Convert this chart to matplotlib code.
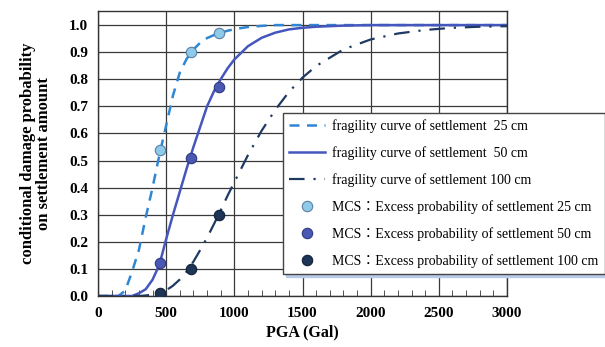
import matplotlib
matplotlib.use("Agg")
import matplotlib.pyplot as plt
from matplotlib.ticker import MultipleLocator

# ---- data ----
pga_curve = [0, 100, 150, 200, 250, 300, 350, 400, 450, 500, 550, 600, 650, 700,
             750, 800, 850, 900, 950, 1000, 1100, 1200, 1300, 1400, 1500, 1600,
             1800, 2000, 2200, 2400, 2600, 2800, 3000]
frag_25 = [0, 0, 0, 0.02, 0.09, 0.17, 0.29, 0.40, 0.52, 0.63, 0.74, 0.825, 0.875, 0.91,
           0.935, 0.952, 0.963, 0.972, 0.979, 0.985, 0.993, 0.997, 1.0, 1.0, 1.0, 1.0,
           1.0, 1.0, 1.0, 1.0, 1.0, 1.0, 1.0]
frag_50 = [0, 0, 0, 0, 0, 0.01, 0.025, 0.06, 0.115, 0.21, 0.30, 0.385, 0.47, 0.55,
           0.625, 0.70, 0.755, 0.80, 0.84, 0.873, 0.922, 0.953, 0.972, 0.984, 0.99, 0.994,
           0.998, 1.0, 1.0, 1.0, 1.0, 1.0, 1.0]
frag_100 = [0, 0, 0, 0, 0, 0, 0.002, 0.005, 0.011, 0.021, 0.038, 0.061, 0.09, 0.127,
            0.17, 0.215, 0.265, 0.316, 0.37, 0.42, 0.52, 0.61, 0.687, 0.753, 0.806, 0.849,
            0.91, 0.947, 0.969, 0.982, 0.99, 0.994, 0.996]

pga_mcs = [455, 680, 890]
mcs_25 = [0.54, 0.90, 0.97]
mcs_50 = [0.12, 0.51, 0.77]
mcs_100 = [0.01, 0.10, 0.30]

labels_curve = ["fragility curve of settlement  25 cm",
                "fragility curve of settlement  50 cm",
                "fragility curve of settlement 100 cm"]
labels_mcs = ["MCS\uff1aExcess probability of settlement 25 cm",
              "MCS\uff1aExcess probability of settlement 50 cm",
              "MCS\uff1aExcess probability of settlement 100 cm"]

c25, c50, c100 = "#2f86d4", "#4556bd", "#1f3a62"
m25, m50, m100 = "#8ecbe8", "#4a58b4", "#1e3556"

serif = ["Liberation Serif", "Noto Sans CJK JP", "DejaVu Serif"]

fig = plt.figure(figsize=(6.05, 3.47), dpi=100)
ax = fig.add_axes([98/605, 1-296/347, (507-98)/605, (296-11)/347])

ax.set_xlim(0, 3000)
ax.set_ylim(0, 1.052)
ax.xaxis.set_major_locator(MultipleLocator(500))
ax.xaxis.set_minor_locator(MultipleLocator(100))
ax.yaxis.set_major_locator(MultipleLocator(0.1))
ax.grid(True, which="major", color="#3a3a3a", linewidth=0.9)
ax.set_axisbelow(True)
ax.tick_params(axis="x", which="both", direction="in", color="#333333")
ax.tick_params(axis="x", which="major", length=0, pad=8)
ax.tick_params(axis="x", which="minor", length=4)
ax.tick_params(axis="y", length=0, pad=7)
for s in ax.spines.values():
    s.set_color("#333333")
    s.set_linewidth(1.0)

ax.set_yticklabels([f"{v:.1f}" for v in ax.get_yticks()])
for lab in ax.get_xticklabels() + ax.get_yticklabels():
    lab.set_fontfamily(serif)
    lab.set_fontweight("bold")
    lab.set_fontsize(11)

l1, = ax.plot(pga_curve, frag_25, color=c25, lw=1.8, dashes=(4, 3), label=labels_curve[0])
l2, = ax.plot(pga_curve, frag_50, color=c50, lw=1.8, label=labels_curve[1])
l3, = ax.plot(pga_curve, frag_100, color=c100, lw=1.6, dashes=(7, 4, 1, 4), label=labels_curve[2])
p1, = ax.plot(pga_mcs, mcs_25, "o", ms=7.5, mfc=m25, mec="#5a7fa8", mew=0.8, label=labels_mcs[0], zorder=5)
p2, = ax.plot(pga_mcs, mcs_50, "o", ms=7.5, mfc=m50, mec="#2d3a80", mew=0.8, label=labels_mcs[1], zorder=5)
p3, = ax.plot(pga_mcs, mcs_100, "o", ms=7.5, mfc=m100, mec="#10203a", mew=0.8, label=labels_mcs[2], zorder=5)

ax.set_xlabel("PGA (Gal)", fontfamily=serif, fontweight="bold", fontsize=11.5, labelpad=3)
ax.set_ylabel("conditional damage probability\non settlement amount", fontfamily=serif,
              fontweight="bold", fontsize=12, linespacing=1.05, labelpad=12)

leg = fig.legend(handles=[l1, l2, l3, p1, p2, p3], loc="upper left",
                 bbox_to_anchor=(283/605, 1-113/347), bbox_transform=fig.transFigure,
                 prop={"family": serif, "size": 10}, frameon=True, fancybox=False,
                 shadow={"color": "#b8cbe8", "alpha": 1.0}, edgecolor="#444444",
                 labelspacing=0.95, handlelength=2.6, handletextpad=0.5,
                 borderpad=0.45, borderaxespad=0)
leg.get_frame().set_linewidth(1.0)

fig.savefig("out.png", dpi=100)
